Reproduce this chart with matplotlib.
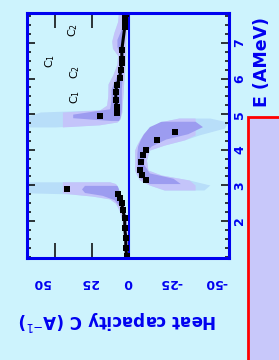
import numpy as np
import matplotlib.pyplot as plt
from matplotlib.patches import Rectangle

# excitation energy (AMeV) and heat capacity C for the measured points
up_E = [7.80, 7.72, 7.65, 7.55, 7.45, 6.80, 6.55, 6.44, 6.24, 6.02, 5.82, 5.62, 5.40, 5.20, 5.03, 4.95]
up_C = [2.0, 2.3, 2.7, 2.7, 2.7, 4.7, 4.7, 4.7, 5.4, 6.1, 8.1, 8.8, 8.8, 8.1, 8.1, 19.6]

low_E = [2.90, 2.76, 2.65, 2.51, 2.31, 2.08, 1.80, 1.52, 1.24, 1.02]
low_C = [41.9, 7.4, 6.1, 4.7, 4.1, 2.7, 2.7, 2.0, 2.0, 1.4]

neg_E = [4.50, 4.28, 3.99, 3.85, 3.66, 3.43, 3.29, 3.15]
neg_C = [-31.1, -18.9, -11.5, -9.5, -8.1, -7.4, -8.8, -11.5]

# error bands (outer / inner) per branch: E, C low, C high
up_band_E = [4.64, 4.70, 4.78, 4.86, 4.95, 5.06, 5.12, 5.25, 5.50, 5.85, 6.10, 6.40, 6.65, 6.85, 7.05, 7.30, 7.60, 7.85]
up_band_lo = [50, 20, 8, 6, 5.4, 4.7, 4.7, 4.5, 4.0, 3.5, 3.0, 2.5, 2.0, 2.0, 2.0, 1.5, 1.5, 1.5]
up_band_hi = [68, 68, 68, 68, 68, 60, 19.6, 15, 14.2, 14, 10.8, 8, 7.5, 11, 11.5, 10, 7.5, 7]
up_in_E = [4.82, 4.90, 5.00, 5.08, 5.15, 5.40, 5.70, 6.00, 6.30, 6.60, 6.90, 7.10, 7.40]
up_in_lo = [7, 6, 5.5, 5.2, 5, 5, 5, 4.5, 4, 3.5, 3.5, 3.5, 3.5]
up_in_hi = [12, 38, 38, 25, 13, 12, 12, 9, 6, 5, 8, 8, 5]

low_band_E = [0.96, 1.50, 2.00, 2.30, 2.50, 2.62, 2.70, 2.76, 2.79, 2.85, 2.95, 3.05, 3.10]
low_band_lo = [0.5, 1.0, 1.5, 2.5, 3.5, 4.5, 5.0, 5.5, 6.0, 6.5, 7.4, 9, 13]
low_band_hi = [3, 3.5, 4.5, 6.5, 9, 13, 25, 40, 68, 68, 68, 68, 68]
low_in_E = [2.45, 2.60, 2.72, 2.80, 2.90, 3.00]
low_in_lo = [4, 5, 5.5, 6.5, 7, 8]
low_in_hi = [7, 10, 18, 30, 32, 30]

neg_band_E = [2.87, 3.01, 3.15, 3.29, 3.43, 3.71, 3.99, 4.13, 4.28, 4.42, 4.61, 4.78, 4.89]
neg_band_lo = [-51, -55, -41, -22, -13, -12, -14, -24, -38, -48, -65, -67, -55]
neg_band_hi = [-24, -14, -7.4, -5.4, -4, -4, -4, -5.4, -7.4, -9.5, -14, -21, -34]
neg_in_E = [3.05, 3.20, 3.35, 3.60, 3.90, 4.10, 4.30, 4.45, 4.65, 4.80]
neg_in_lo = [-35, -30, -14, -10, -11, -15, -25, -40, -50, -45]
neg_in_hi = [-14, -8, -6, -5.5, -5.5, -6, -8, -10, -14, -22]

E_ticks = [2, 3, 4, 5, 6, 7]
C_tick_labels = ['50', '25', '0', '-25', '-50']
C_label_at = [59.5, 27, 0.7, -28.4, -59]

bg = '#cdf3fd'
blue = '#0000f0'
pale_col = '#b8def9'
outer_col = '#c4c4fa'
inner_col = '#9c9cf0'

fig = plt.figure(figsize=(2.79, 3.60), dpi=100, facecolor=bg)
ax = fig.add_axes([27/279, 1-258/360, 202/279, 245/360])
ax.set_facecolor(bg)

for E, lo, hi in [(up_band_E, up_band_lo, up_band_hi),
                  (low_band_E, low_band_lo, low_band_hi),
                  (neg_band_E, neg_band_lo, neg_band_hi)]:
    ax.fill_betweenx(E, lo, hi, color=pale_col, lw=0)
    # lavender part of the band stays inside |C| < 45, outside it fades to pale blue
    ax.fill_betweenx(E, np.clip(lo, -45, 45), np.clip(hi, -45, 45), color=outer_col, lw=0)
for E, lo, hi in [(up_in_E, up_in_lo, up_in_hi),
                  (low_in_E, low_in_lo, low_in_hi),
                  (neg_in_E, neg_in_lo, neg_in_hi)]:
    ax.fill_betweenx(E, lo, hi, color=inner_col, lw=0)

ax.axvline(0, color=blue, lw=1.5)

for E, C in [(up_E, up_C), (low_E, low_C), (neg_E, neg_C)]:
    ax.plot(C, E, 's', color='black', ms=4.2, mew=0)
ax.plot(up_C[:-1], up_E[:-1], '-', color='black', lw=2.2)
ax.plot(low_C[1:], low_E[1:], '-', color='black', lw=2.2)

ax.set_xlim(69, -68)
ax.set_ylim(0.96, 7.84)

for s in ax.spines.values():
    s.set_color(blue)
    s.set_linewidth(2.2)

ax.set_xticks([50, 25])
ax.tick_params(axis='x', which='both', top=True, bottom=True, direction='in',
               length=11, width=1.1, color='black', labelbottom=False)
ax.set_yticks(E_ticks)
ax.set_yticks(np.arange(1.0, 7.9, 0.25), minor=True)
ax.yaxis.tick_right()
ax.tick_params(axis='y', which='both', left=True, right=True, direction='in',
               color='black', width=1.1, labelleft=False, labelright=True,
               labelrotation=90, labelcolor=blue, labelsize=9, pad=3)
ax.tick_params(axis='y', which='major', length=6)
ax.tick_params(axis='y', which='minor', length=3)
for t in ax.get_yticklabels():
    t.set_fontweight('bold')
    t.set_va('center')

trans = ax.get_xaxis_transform()
for lab, c in zip(C_tick_labels, C_label_at):
    ax.text(c, -0.098, lab, transform=trans, rotation=180, ha='center', va='center',
            color=blue, fontsize=9, fontweight='bold')

fig.text(118/279, 1-320/360, 'Heat capacity C (A$^{-1}$)', rotation=180,
         ha='center', va='center', color=blue, fontsize=12, fontweight='bold')
fig.text(262/279, 1-62/360, 'E (AMeV)', rotation=90, ha='center', va='center',
         color=blue, fontsize=12.5, fontweight='bold')

for x, y, s in [(73, 30, 'C$_2$'), (50, 61, 'C$_1$'), (75, 72, 'C$_2$'), (75, 97, 'C$_1$')]:
    fig.text(x/279, 1-y/360, s, rotation=90, ha='center', va='center', fontsize=8)

fig.patches.append(Rectangle((248/279, -0.05), 0.2, 1-117/360+0.05, transform=fig.transFigure,
                             facecolor='#c8c8fa', edgecolor='red', lw=2))

fig.savefig('out.png', dpi=100, facecolor=bg)
